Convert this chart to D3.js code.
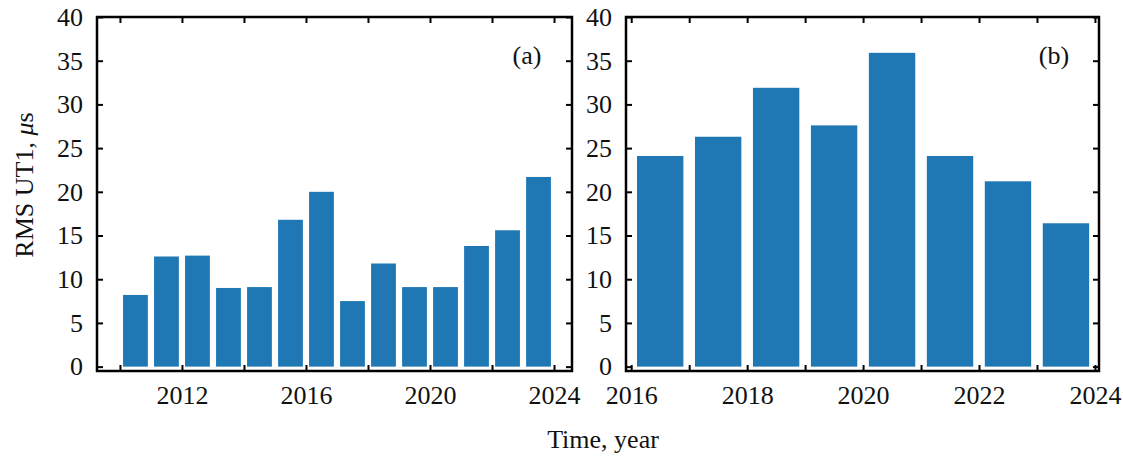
<!DOCTYPE html>
<html>
<head>
<meta charset="utf-8">
<script src="https://cdn.jsdelivr.net/npm/d3@7"></script>
<style>
body { margin: 0; background: #fff; }
text { font-family: "Liberation Serif", "Times New Roman", serif; }
</style>
</head>
<body>
<svg width="1123" height="457"></svg>
<script>
// panel (a): yearly RMS
const yearsA = [2010, 2011, 2012, 2013, 2014, 2015, 2016, 2017, 2018, 2019, 2020, 2021, 2022, 2023];
const rmsA = [8.2, 12.6, 12.7, 9.0, 9.1, 16.8, 20.0, 7.5, 11.8, 9.1, 9.1, 13.8, 15.6, 21.7];
const xTicksA = [2010, 2012, 2014, 2016, 2018, 2020, 2022, 2024];
const xLabelsA = [2012, 2016, 2020, 2024];

// panel (b)
const yearsB = [2016, 2017, 2018, 2019, 2020, 2021, 2022, 2023];
const rmsB = [24.1, 26.3, 31.9, 27.6, 35.9, 24.1, 21.2, 16.4];
const xTicksB = [2016, 2017, 2018, 2019, 2020, 2021, 2022, 2023, 2024];
const xLabelsB = [2016, 2018, 2020, 2022, 2024];

const yTicks = [0, 5, 10, 15, 20, 25, 30, 35, 40];

const barColor = '#1f77b4';
const fontSize = 26;
const plotTop = 17, plotBottom = 371;

const svg = d3.select('svg');

const y = d3.scaleLinear().domain([-0.5, 40]).range([plotBottom, plotTop]);

function drawPanel(left, right, xDomain, years, values, ticks, labels, tag) {
    let x = d3.scaleLinear().domain(xDomain).range([left, right]);
    let g = svg.append('g');

    g.selectAll('rect.bar')
        .data(years)
        .join('rect')
        .attr('class', 'bar')
        .attr('x', d => x(d + 0.1))
        .attr('width', d => x(d + 0.9) - x(d + 0.1))
        .attr('y', (d, i) => y(values[i]))
        .attr('height', (d, i) => y(0) - y(values[i]))
        .attr('fill', barColor);

    let fmt = d => labels.includes(d) ? d : '';

    let bAxis = g.append('g')
        .attr('transform', `translate(0,${plotBottom})`)
        .call(d3.axisBottom(x).tickValues(ticks).tickSize(-6).tickPadding(15).tickFormat(fmt));
    let tAxis = g.append('g')
        .attr('transform', `translate(0,${plotTop})`)
        .call(d3.axisTop(x).tickValues(ticks).tickSize(-6).tickFormat(''));
    let lAxis = g.append('g')
        .attr('transform', `translate(${left},0)`)
        .call(d3.axisLeft(y).tickValues(yTicks).tickSize(-6).tickPadding(14));
    let rAxis = g.append('g')
        .attr('transform', `translate(${right},0)`)
        .call(d3.axisRight(y).tickValues(yTicks).tickSize(-6).tickFormat(''));

    [bAxis, tAxis, lAxis, rAxis].forEach(a => {
        a.select('.domain').remove();
        a.selectAll('line').attr('stroke', '#000').attr('stroke-width', 2);
        a.selectAll('text')
            .attr('fill', '#111')
            .style('font-family', '"Liberation Serif", "Times New Roman", serif')
            .style('font-size', fontSize + 'px');
    });

    g.append('rect')
        .attr('x', left)
        .attr('y', plotTop)
        .attr('width', right - left)
        .attr('height', plotBottom - plotTop)
        .attr('fill', 'none')
        .attr('stroke', '#000')
        .attr('stroke-width', 2.5);

    g.append('text')
        .attr('x', right - 45)
        .attr('y', 64)
        .attr('text-anchor', 'middle')
        .style('font-size', fontSize + 'px')
        .attr('fill', '#111')
        .text(tag);
}

drawPanel(97, 572, [2009.26, 2024.58], yearsA, rmsA, xTicksA, xLabelsA, '(a)');
drawPanel(626, 1099, [2015.91, 2024.07], yearsB, rmsB, xTicksB, xLabelsB, '(b)');

// axis titles
let yTitle = svg.append('text')
    .attr('transform', 'translate(33,185) rotate(-90)')
    .attr('text-anchor', 'middle')
    .style('font-size', fontSize + 'px')
    .attr('fill', '#111');
yTitle.append('tspan').text('RMS UT1, ');
yTitle.append('tspan').style('font-style', 'italic').text('\u03bc');
yTitle.append('tspan').text('s');

svg.append('text')
    .attr('x', 603)
    .attr('y', 448)
    .attr('text-anchor', 'middle')
    .style('font-size', fontSize + 'px')
    .attr('fill', '#111')
    .text('Time, year');
</script>
</body>
</html>
